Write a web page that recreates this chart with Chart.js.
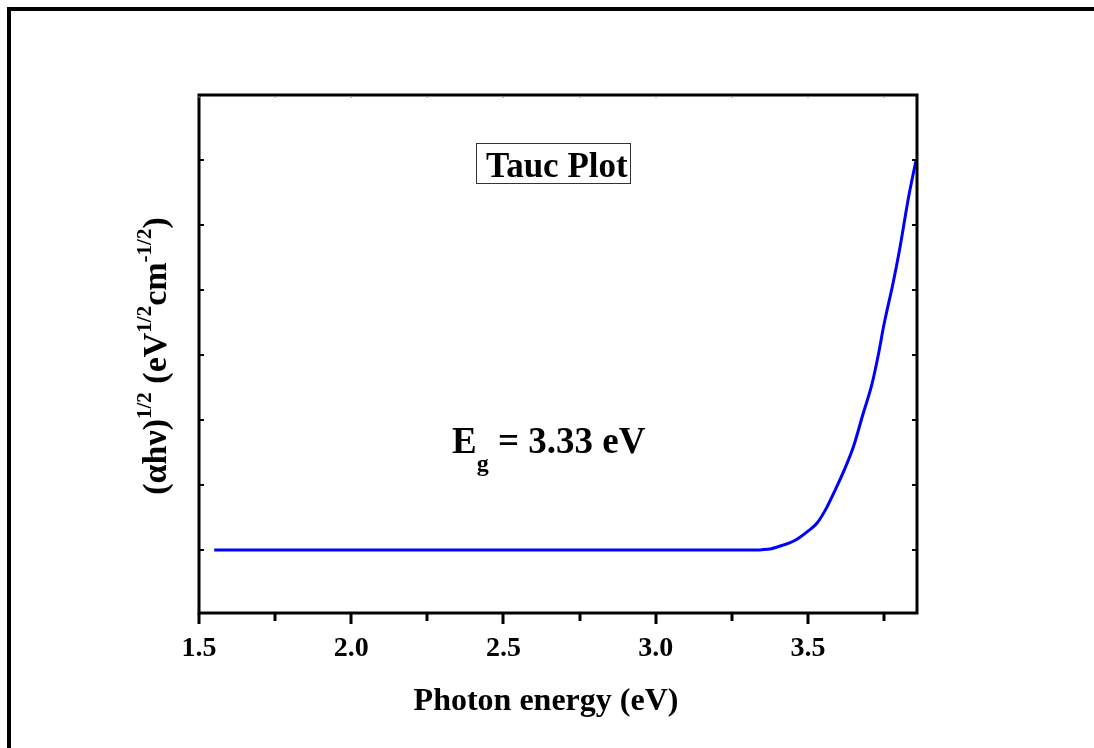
<!DOCTYPE html>
<html>
<head>
<meta charset="utf-8">
<script src="https://cdn.jsdelivr.net/npm/chart.js@4.4.0/dist/chart.umd.min.js"></script>
<style>
body { margin: 0; background: #fff; }
#wrap { width: 1094px; height: 748px; }
</style>
</head>
<body>
<div id="wrap"><canvas id="mycanvas" width="1094" height="748"></canvas></div>
<script>
// photon energy (eV) and (alpha h nu)^1/2, arbitrary units
var energy = [1.55, 2.0, 2.5, 3.0, 3.30, 3.35, 3.38, 3.42, 3.45, 3.47, 3.50, 3.53, 3.56, 3.59,
              3.62, 3.65, 3.68, 3.71, 3.73, 3.75, 3.78, 3.80, 3.83, 3.855];
var tauc = [0, 0, 0, 0, 0, 0.005, 0.02, 0.077, 0.13, 0.185, 0.29, 0.415, 0.64, 0.93,
            1.24, 1.60, 2.08, 2.55, 2.98, 3.48, 4.12, 4.60, 5.42, 6.0];

var xTickValues = [1.5, 1.75, 2.0, 2.25, 2.5, 2.75, 3.0, 3.25, 3.5, 3.75];
var xTickLabels = ['1.5', '', '2.0', '', '2.5', '', '3.0', '', '3.5', ''];
var yTickValues = [0, 1, 2, 3, 4, 5, 6];

var xTitle = 'Photon energy (eV)';
var yTitle = [['(\u03b1h\u03bd)', 0], ['1/2', 1], [' (eV', 0], ['1/2', 1], ['cm', 0], ['-1/2', 1], [')', 0]];
var boxLabel = 'Tauc Plot';
var gapLabel = [['E', 0], ['g', -1], [' = 3.33 eV', 0]];

var serif = '"Liberation Serif", "Times New Roman", serif';

var points = [];
for (var i in energy) {
	points.push({x: energy[i], y: tauc[i]});
}

function richText(ctx, parts, x, y, size, small, raise, drop) {
	var w = 0;
	for (var i = 0; i < parts.length; i++) {
		ctx.font = 'bold ' + (parts[i][1] ? small : size) + 'px ' + serif;
		var dy = parts[i][1] == 1 ? -raise : (parts[i][1] == -1 ? drop : 0);
		ctx.fillText(parts[i][0], x + w, y + dy);
		w += ctx.measureText(parts[i][0]).width;
	}
	return w;
}
function richWidth(ctx, parts, size, small) {
	var w = 0;
	for (var i = 0; i < parts.length; i++) {
		ctx.font = 'bold ' + (parts[i][1] ? small : size) + 'px ' + serif;
		w += ctx.measureText(parts[i][0]).width;
	}
	return w;
}

var framePlugin = {
	id: 'frame',
	afterDraw: function(chart) {
		var ctx = chart.ctx;
		var a = chart.chartArea;
		var xs = chart.scales.x, ys = chart.scales.y;
		ctx.save();
		ctx.fillStyle = '#000';
		// outer border (top and left)
		ctx.fillRect(7, 7, 1094 - 7, 4);
		ctx.fillRect(7, 7, 4, 748 - 7);

		// plot frame
		ctx.strokeStyle = '#000';
		ctx.lineWidth = 3;
		ctx.strokeRect(a.left, a.top, a.right - a.left, a.bottom - a.top);

		// x ticks (outward), top ticks (tiny, inward)
		for (var i = 0; i < xTickValues.length; i++) {
			var px = Math.round(xs.getPixelForValue(xTickValues[i]));
			var len = xTickLabels[i] ? 11 : 8;
			ctx.fillRect(px - 1.5, a.bottom, 3, len);
			ctx.fillStyle = '#888';
			ctx.fillRect(px - 0.5, a.top + 1, 1, 2);
			ctx.fillStyle = '#000';
		}
		// y ticks, inward on both sides
		for (var j = 0; j < yTickValues.length; j++) {
			var py = Math.round(ys.getPixelForValue(yTickValues[j]));
			ctx.fillRect(a.left + 1, py - 1, 4, 2);
			ctx.fillRect(a.right - 5, py - 1, 4, 2);
		}

		// axis titles
		ctx.textBaseline = 'alphabetic';
		ctx.textAlign = 'center';
		ctx.font = 'bold 32px ' + serif;
		ctx.fillText(xTitle, 546, 710);

		ctx.textAlign = 'left';
		ctx.save();
		ctx.translate(166, 356);
		ctx.rotate(-Math.PI / 2);
		var tw = richWidth(ctx, yTitle, 34, 21);
		richText(ctx, yTitle, -tw / 2, 0, 34, 21, 15, 0);
		ctx.restore();

		// Tauc Plot box
		ctx.font = 'bold 35px ' + serif;
		ctx.fillText(boxLabel, 486, 177);
		ctx.strokeStyle = '#333';
		ctx.lineWidth = 1;
		ctx.strokeRect(476.5, 143.5, 154, 40);

		// band gap label
		richText(ctx, gapLabel, 452, 453, 37, 24, 0, 18);
		ctx.restore();
	}
};

var ctx = document.getElementById('mycanvas');
var myChart = new Chart(ctx, {
	type: 'line',
	data: {
		datasets: [{
			label: 'Tauc',
			data: points,
			borderColor: 'rgb(0, 0, 255)',
			borderWidth: 3,
			pointRadius: 0,
			fill: false,
			cubicInterpolationMode: 'monotone'
		}]
	},
	options: {
		responsive: false,
		animation: false,
		devicePixelRatio: 1,
		layout: { padding: { left: 0, top: 95, right: 177, bottom: 0 } },
		plugins: { legend: { display: false }, tooltip: { enabled: false } },
		scales: {
			x: {
				type: 'linear',
				min: 1.5,
				max: 3.858,
				afterBuildTicks: function(scale) {
					scale.ticks = xTickValues.map(function(v) { return {value: v}; });
				},
				afterFit: function(scale) { scale.height = 135; },
				grid: { display: false, drawTicks: false },
				border: { display: false },
				ticks: {
					padding: 19,
					maxRotation: 0,
					autoSkip: false,
					color: '#000',
					font: { family: serif, size: 28, weight: 'bold' },
					callback: function(value) {
						var k = xTickValues.indexOf(value);
						return k >= 0 ? xTickLabels[k] : '';
					}
				}
			},
			y: {
				type: 'linear',
				min: -0.97,
				max: 7.0,
				afterFit: function(scale) { scale.width = 199; },
				grid: { display: false, drawTicks: false },
				border: { display: false },
				ticks: { display: false }
			}
		}
	},
	plugins: [framePlugin]
});
</script>
</body>
</html>
